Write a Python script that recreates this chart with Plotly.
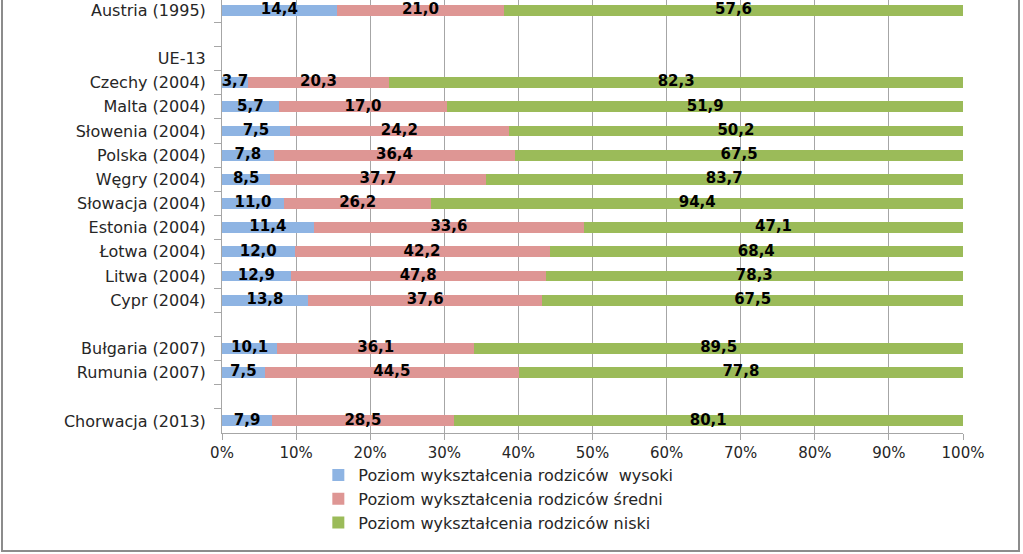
import plotly.graph_objects as go

categories = ["Austria (1995)", " ", "UE-13", "Czechy (2004)", "Malta (2004)", "Słowenia (2004)",
              "Polska (2004)", "Węgry (2004)", "Słowacja (2004)", "Estonia (2004)", "Łotwa (2004)",
              "Litwa (2004)", "Cypr (2004)", "  ", "Bułgaria (2007)", "Rumunia (2007)", "   ",
              "Chorwacja (2013)"]
wysoki = [14.4, None, None, 3.7, 5.7, 7.5, 7.8, 8.5, 11.0, 11.4, 12.0, 12.9, 13.8, None, 10.1, 7.5, None, 7.9]
sredni = [21.0, None, None, 20.3, 17.0, 24.2, 36.4, 37.7, 26.2, 33.6, 42.2, 47.8, 37.6, None, 36.1, 44.5, None, 28.5]
niski = [57.6, None, None, 82.3, 51.9, 50.2, 67.5, 83.7, 94.4, 47.1, 68.4, 78.3, 67.5, None, 89.5, 77.8, None, 80.1]
series_names = ["Poziom wykształcenia rodziców  wysoki",
                "Poziom wykształcenia rodziców średni",
                "Poziom wykształcenia rodziców niski"]
colors = ["#8EB4E3", "#DE9694", "#9BBB59"]
x_ticks = [0, 10, 20, 30, 40, 50, 60, 70, 80, 90, 100]
x_tick_labels = [f"{v}%" for v in x_ticks]


def fmt(v):
    return "" if v is None else f"{v:.1f}".replace(".", ",")


series = [wysoki, sredni, niski]

fig = go.Figure()
for name, vals, col in zip(series_names, series, colors):
    fig.add_trace(go.Bar(
        y=categories, x=vals, name=name, orientation="h",
        marker=dict(color=col, line=dict(width=0)),
        width=0.45,
        textposition="none",
        hoverinfo="skip",
    ))

# data labels: centred in each (percent-normalised) segment
for k, vals in enumerate(series):
    xs, ys, ts = [], [], []
    for i, cat in enumerate(categories):
        if vals[i] is None:
            continue
        total = sum(s[i] for s in series)
        start = sum(series[j][i] for j in range(k))
        xs.append((start + vals[i] / 2) / total * 100)
        ys.append(cat)
        ts.append(fmt(vals[i]))
    fig.add_trace(go.Scatter(
        x=xs, y=ys, text=ts, mode="text", showlegend=False, hoverinfo="skip",
        textposition="middle center", cliponaxis=False,
        textfont=dict(family="DejaVu Sans", size=15, color="#000000", weight="bold"),
    ))

fig.update_layout(
    width=1023, height=554,
    barmode="stack", barnorm="percent",
    plot_bgcolor="white", paper_bgcolor="white",
    margin=dict(l=222, r=60, t=0, b=121),
    font=dict(family="DejaVu Sans", size=15, color="#262626"),
    showlegend=True,
    legend=dict(x=0.13, y=-0.058, xanchor="left", yanchor="top", traceorder="normal",
                font=dict(family="DejaVu Sans", size=16, color="#262626"),
                tracegroupgap=0, itemwidth=30, bgcolor="rgba(0,0,0,0)"),
)
fig.update_xaxes(
    range=[0, 100], tickvals=x_ticks, ticktext=x_tick_labels,
    showgrid=True, gridcolor="#A6A6A6", gridwidth=1,
    showline=True, linecolor="#A6A6A6", linewidth=1,
    ticks="outside", ticklen=6, tickcolor="#A6A6A6",
    tickfont=dict(family="DejaVu Sans", size=15, color="#262626"),
    zeroline=False, fixedrange=True,
)
fig.update_yaxes(
    type="category", categoryorder="array", categoryarray=categories,
    range=[17.5, -0.42],
    showline=True, linecolor="#A6A6A6", linewidth=1,
    ticks="outside", ticklen=7, tickcolor="#A6A6A6", tickson="boundaries",
    ticklabelstandoff=12,
    tickfont=dict(family="DejaVu Sans", size=16, color="#262626"),
    showgrid=False, fixedrange=True,
)
# outer chart frame
fig.add_shape(type="rect", xref="paper", yref="paper",
              x0=-220 / 741, x1=797 / 741, y0=-118 / 433, y1=1.2,
              line=dict(color="#8C8C8C", width=2), layer="below")

fig.write_html("out.html")
